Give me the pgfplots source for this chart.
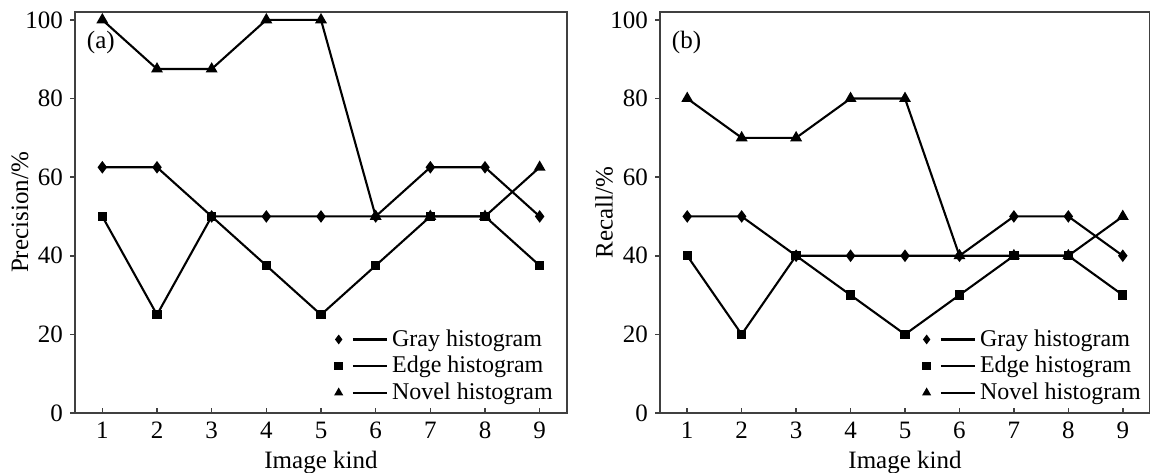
\documentclass[border=0pt]{standalone}
\usepackage{fontspec}
\setmainfont{Liberation Serif}
\usepackage{pgfplots}
\pgfplotsset{compat=1.18}

\pgfplotsset{
  panel/.style={
    scale only axis,
    height=200.5pt,
    anchor=south west,
    xmin=0.5, xmax=9.5,
    ymin=0, ymax=102,
    xtick={1,...,9},
    ytick={0,20,...,100},
    xtick pos=bottom, ytick pos=left,
    xtick align=inside, ytick align=outside,
    major tick length=2.5pt,
    axis line style={black!75, line width=0.9pt},
    tick style={black!75, line width=0.8pt},
    /pgf/number format/assume math mode=true,
    tick label style={font=\fontsize{12.5}{14}\selectfont},
    xticklabel style={yshift=-1pt},
    label style={font=\fontsize{12.5}{14}\selectfont},
    xlabel={Image kind},
    xlabel style={yshift=1pt},
    every axis plot/.append style={black, line width=1.05pt},
    legend style={draw=none, fill=none, font=\fontsize{12}{13}\selectfont,
      row sep=-0.5pt, inner sep=0pt, cells={anchor=west}},
    legend image code/.code={
      \draw[#1,only marks,mark size=1.6pt] plot coordinates {(0cm,0cm)};
      \draw[#1,mark=none] (0.25cm,0cm) -- (0.85cm,0cm);
    },
  },
  gray/.style={mark=diamond*, mark size=2.3pt},
  edge/.style={mark=square*, mark size=1.8pt},
  novel/.style={mark=triangle*, mark size=2.4pt},
}

\begin{document}
\begin{tikzpicture}
\useasboundingbox (0,0) rectangle (575pt,236pt);

\begin{axis}[panel, at={(37.5pt,29.5pt)}, width=246pt,
    ylabel={Precision/\%},
    ylabel style={at={(rel axis cs:-0.112,0.5)}, anchor=center},
    legend style={at={(0.98,0.015)}, anchor=south east}]
\addplot[gray] coordinates {(1,62.5) (2,62.5) (3,50) (4,50) (5,50) (6,50) (7,62.5) (8,62.5) (9,50)};
\addplot[edge] coordinates {(1,50) (2,25) (3,50) (4,37.5) (5,25) (6,37.5) (7,50) (8,50) (9,37.5)};
\addplot[novel] coordinates {(1,100) (2,87.5) (3,87.5) (4,100) (5,100) (6,50) (7,50) (8,50) (9,62.5)};
\legend{Gray histogram, Edge histogram, Novel histogram}
\node[anchor=north west, font=\fontsize{12.5}{14}\selectfont] at (rel axis cs:0.01,0.97) {(a)};
\end{axis}

\begin{axis}[panel, at={(330pt,29.5pt)}, width=245pt,
    ylabel={Recall/\%},
    ylabel style={at={(rel axis cs:-0.114,0.5)}, anchor=center},
    legend style={at={(0.99,0.015)}, anchor=south east}]
\addplot[gray] coordinates {(1,50) (2,50) (3,40) (4,40) (5,40) (6,40) (7,50) (8,50) (9,40)};
\addplot[edge] coordinates {(1,40) (2,20) (3,40) (4,30) (5,20) (6,30) (7,40) (8,40) (9,30)};
\addplot[novel] coordinates {(1,80) (2,70) (3,70) (4,80) (5,80) (6,40) (7,40) (8,40) (9,50)};
\legend{Gray histogram, Edge histogram, Novel histogram}
\node[anchor=north west, font=\fontsize{12.5}{14}\selectfont] at (rel axis cs:0.01,0.97) {(b)};
\end{axis}
\end{tikzpicture}
\end{document}
